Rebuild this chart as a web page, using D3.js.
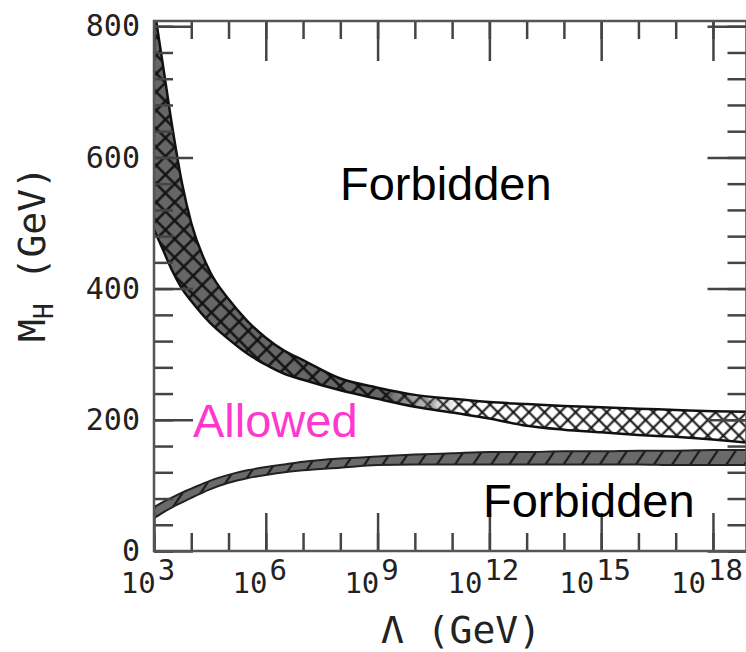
<!DOCTYPE html>
<html>
<head>
<meta charset="utf-8">
<script src="https://cdn.jsdelivr.net/npm/d3@7"></script>
<style>
  body { margin: 0; background: #fff; }
  svg { display: block; }
</style>
</head>
<body>
<script>
// values: log10(Lambda / GeV) and Higgs mass edges (GeV)
const logLambda = [3, 3.25, 3.5, 3.75, 4, 4.5, 5, 5.5, 6, 6.5, 7, 8, 9, 10, 11, 12, 13, 14, 15, 16, 17, 18, 19];
// triviality (upper) band
const upperHigh = [830, 737, 643, 561, 500, 426, 384, 351, 325, 305, 291, 263, 249, 238, 232, 227, 224, 221, 219, 217, 215, 213, 212];
const upperLow = [490, 458, 426, 400, 381, 348, 323, 301, 284, 270, 261, 245, 232, 220, 211, 202, 191, 185, 181, 177, 174, 170, 165];
// vacuum stability (lower) band
const lowerHigh = [67, 75, 82, 89, 95, 107, 116, 123, 128, 132, 136, 141, 144, 147, 149, 151, 151, 152, 152, 153, 153, 154, 154];
const lowerLow = [50, 59, 67, 74, 81, 94, 104, 111, 116, 120, 123, 127, 131, 132, 132, 132, 132, 132, 132, 132, 131, 131, 131];

const xMajorExp = [3, 6, 9, 12, 15, 18];
const xMinorExp = d3.range(3, 19);
const yMajor = [0, 200, 400, 600, 800];
const yMinor = d3.range(0, 801, 40);

const W = 746, H = 652;
const m = { left: 154, right: 746.5, top: 21, bottom: 551 };

const svg = d3.select("body").append("svg").attr("width", W).attr("height", H);

const x = d3.scaleLog().domain([1e3, Math.pow(10, 18.9)]).range([m.left, m.right]);
const y = d3.scaleLinear().domain([0, 808]).range([m.bottom, m.top]);

const defs = svg.append("defs");
defs.append("clipPath").attr("id", "plot")
  .append("rect").attr("x", m.left).attr("y", m.top).attr("width", m.right - m.left).attr("height", m.bottom - m.top);

// the dark crosshatch fades into an open one around 10^10 GeV
const fade = defs.append("linearGradient").attr("id", "fade")
  .attr("gradientUnits", "userSpaceOnUse")
  .attr("x1", x(Math.pow(10, 9.2))).attr("x2", x(Math.pow(10, 11.2))).attr("y1", 0).attr("y2", 0);
fade.append("stop").attr("offset", 0).attr("stop-color", "#fff");
fade.append("stop").attr("offset", 1).attr("stop-color", "#000");
defs.append("mask").attr("id", "darkMask").attr("maskUnits", "userSpaceOnUse")
  .attr("x", 0).attr("y", 0).attr("width", W).attr("height", H)
  .append("rect").attr("width", W).attr("height", H).attr("fill", "url(#fade)");

function crossPattern(id, bg, size, sw) {
  const p = defs.append("pattern").attr("id", id)
    .attr("patternUnits", "userSpaceOnUse")
    .attr("width", size).attr("height", size)
    .attr("patternTransform", "rotate(45)");
  p.append("rect").attr("width", size).attr("height", size).attr("fill", bg);
  p.append("line").attr("x1", 0).attr("x2", size).attr("y1", size / 2).attr("y2", size / 2)
    .attr("stroke", "#111").attr("stroke-width", sw);
  p.append("line").attr("y1", 0).attr("y2", size).attr("x1", size / 2).attr("x2", size / 2)
    .attr("stroke", "#111").attr("stroke-width", sw);
}
crossPattern("crossDark", "#666", 13, 2.4);
crossPattern("crossLight", "#fff", 11, 2);

const hatch = defs.append("pattern").attr("id", "hatch")
  .attr("patternUnits", "userSpaceOnUse")
  .attr("width", 15).attr("height", 15)
  .attr("patternTransform", "rotate(34)");
hatch.append("rect").attr("width", 15).attr("height", 15).attr("fill", "#6a6a6a");
hatch.append("line").attr("x1", 7).attr("x2", 7).attr("y1", 0).attr("y2", 15)
  .attr("stroke", "#1a1a1a").attr("stroke-width", 2.2);

const pts = (hi, lo) => logLambda.map((l, i) => ({ l: Math.pow(10, l), hi: hi[i], lo: lo[i] }));
const upper = pts(upperHigh, upperLow);
const lower = pts(lowerHigh, lowerLow);

const area = d3.area().curve(d3.curveMonotoneX)
  .x(d => x(d.l)).y0(d => y(d.lo)).y1(d => y(d.hi));
const lineHi = d3.line().curve(d3.curveMonotoneX).x(d => x(d.l)).y(d => y(d.hi));
const lineLo = d3.line().curve(d3.curveMonotoneX).x(d => x(d.l)).y(d => y(d.lo));

const plot = svg.append("g").attr("clip-path", "url(#plot)");

plot.append("path").datum(upper).attr("d", area).attr("fill", "url(#crossLight)");
plot.append("path").datum(upper).attr("d", area).attr("fill", "url(#crossDark)")
  .attr("mask", "url(#darkMask)");
plot.append("path").datum(upper).attr("d", lineHi).attr("fill", "none").attr("stroke", "#111").attr("stroke-width", 2.5);
plot.append("path").datum(upper).attr("d", lineLo).attr("fill", "none").attr("stroke", "#111").attr("stroke-width", 2.5);

plot.append("path").datum(lower).attr("d", area).attr("fill", "url(#hatch)");
plot.append("path").datum(lower).attr("d", lineHi).attr("fill", "none").attr("stroke", "#222").attr("stroke-width", 2);
plot.append("path").datum(lower).attr("d", lineLo).attr("fill", "none").attr("stroke", "#222").attr("stroke-width", 2);

// ticks (all pointing inward)
const tickCol = "#444";
function styleAxis(g) {
  g.select(".domain").remove();
  g.selectAll(".tick line").attr("stroke", tickCol).attr("stroke-width", 2.5);
}
const xMinorVals = xMinorExp.map(e => Math.pow(10, e));
const xMajorVals = xMajorExp.map(e => Math.pow(10, e));

svg.append("g").attr("transform", `translate(0,${m.bottom})`)
  .call(d3.axisBottom(x).tickValues(xMinorVals).tickSize(-18).tickFormat("")).call(styleAxis);
svg.append("g").attr("transform", `translate(0,${m.bottom})`)
  .call(d3.axisBottom(x).tickValues(xMajorVals).tickSize(-38).tickFormat("")).call(styleAxis);
svg.append("g").attr("transform", `translate(0,${m.top})`)
  .call(d3.axisTop(x).tickValues(xMinorVals).tickSize(-18).tickFormat("")).call(styleAxis);
svg.append("g").attr("transform", `translate(0,${m.top})`)
  .call(d3.axisTop(x).tickValues(xMajorVals).tickSize(-40).tickFormat("")).call(styleAxis);

svg.append("g").attr("transform", `translate(${m.left},0)`)
  .call(d3.axisLeft(y).tickValues(yMinor).tickSize(-19).tickFormat("")).call(styleAxis);
const yLab = svg.append("g").attr("transform", `translate(${m.left},0)`)
  .call(d3.axisLeft(y).tickValues(yMajor).tickSize(-39).tickPadding(14).tickFormat(d3.format("d")))
  .call(styleAxis);
yLab.selectAll(".tick text")
  .attr("font-family", "DejaVu Sans Mono").attr("font-size", 30).attr("fill", "#222");

svg.append("g").attr("transform", `translate(${m.right},0)`)
  .call(d3.axisRight(y).tickValues(yMinor).tickSize(-19).tickFormat("")).call(styleAxis);
svg.append("g").attr("transform", `translate(${m.right},0)`)
  .call(d3.axisRight(y).tickValues(yMajor).tickSize(-39).tickFormat("")).call(styleAxis);

// frame
svg.append("rect").attr("x", m.left).attr("y", m.top).attr("width", m.right - m.left).attr("height", m.bottom - m.top)
  .attr("fill", "none").attr("stroke", "#555").attr("stroke-width", 2.5);

// x tick labels 10^n
const xl = svg.append("g").attr("font-family", "DejaVu Sans Mono").attr("font-size", 29).attr("fill", "#222");
xMajorExp.forEach(e => {
  const t = xl.append("text").attr("x", x(Math.pow(10, e)) - 6).attr("y", 593).attr("text-anchor", "middle");
  t.append("tspan").text("10");
  t.append("tspan").attr("dy", -13).attr("dx", 2).text(e);
});

// axis titles
svg.append("text").attr("x", 461).attr("y", 643).attr("text-anchor", "middle")
  .attr("font-family", "DejaVu Sans Mono").attr("font-size", 38).attr("fill", "#222")
  .text("Λ (GeV)");

const yt = svg.append("text").attr("transform", "translate(45,254) rotate(-90)")
  .attr("text-anchor", "middle")
  .attr("font-family", "DejaVu Sans Mono").attr("font-size", 38).attr("fill", "#222");
yt.append("tspan").text("M");
yt.append("tspan").attr("font-size", 26).attr("dy", 8).text("H");
yt.append("tspan").attr("dy", -8).text(" (GeV)");

// region labels
const lab = svg.append("g").attr("font-family", "Liberation Sans, Arial, sans-serif").attr("font-size", 47);
lab.append("text").attr("x", 340).attr("y", 200).attr("fill", "#000").text("Forbidden");
lab.append("text").attr("x", 193).attr("y", 437).attr("fill", "#ff38cf").text("Allowed");
lab.append("text").attr("x", 483).attr("y", 517).attr("fill", "#000").text("Forbidden");
</script>
</body>
</html>
